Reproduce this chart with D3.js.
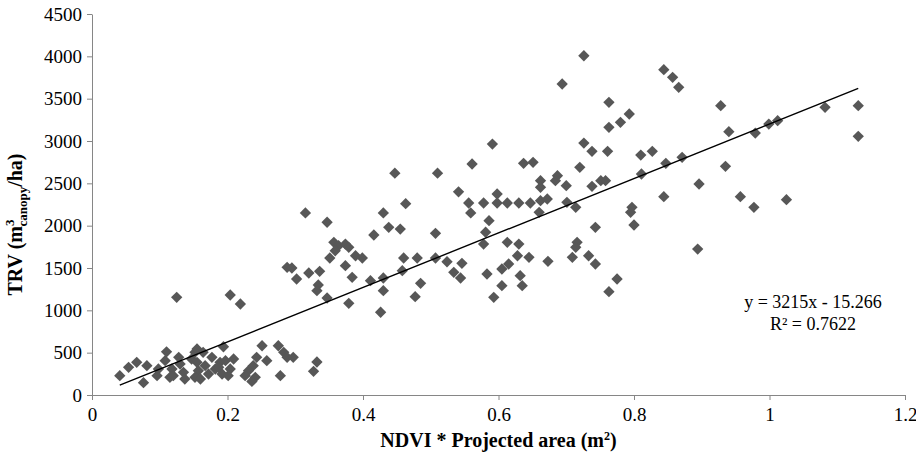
<!DOCTYPE html>
<html>
<head>
<meta charset="utf-8">
<script src="https://cdn.jsdelivr.net/npm/d3@7"></script>
<style>
  body { margin: 0; background: #fff; }
  svg text { font-family: "Liberation Serif", "Times New Roman", serif; }
</style>
</head>
<body>
<div id="plot"></div>
<script>
// NDVI * projected area (x) and TRV (y)
var ndvi = [
  0.041, 0.054, 0.066, 0.081, 0.076, 0.110, 0.108, 0.098, 0.096, 0.118,
  0.115, 0.128, 0.130, 0.135, 0.137, 0.147, 0.152, 0.155, 0.157, 0.152,
  0.164, 0.167, 0.172, 0.177, 0.182, 0.189, 0.192, 0.125, 0.204, 0.219,
  0.194, 0.197, 0.209, 0.187, 0.204, 0.201, 0.251, 0.243, 0.258, 0.238,
  0.231, 0.226, 0.241, 0.236, 0.275, 0.283, 0.288, 0.297, 0.278, 0.332,
  0.327, 0.120, 0.160, 0.155,
  0.315, 0.347, 0.430, 0.463, 0.541, 0.556, 0.559, 0.416, 0.438, 0.455,
  0.507, 0.357, 0.364, 0.374, 0.379, 0.359, 0.351, 0.389, 0.399, 0.460,
  0.480, 0.507, 0.524, 0.546, 0.288, 0.295, 0.320, 0.336, 0.374, 0.302,
  0.384, 0.411, 0.430, 0.458, 0.534, 0.544, 0.334, 0.332, 0.485, 0.430,
  0.347, 0.379, 0.477, 0.426, 0.447, 0.510,
  0.763, 0.793, 0.780, 0.763, 0.591, 0.561, 0.726, 0.738, 0.761, 0.810,
  0.827, 0.847, 0.637, 0.651, 0.720, 0.811, 0.662, 0.687, 0.684, 0.700,
  0.662, 0.738, 0.751, 0.758, 0.598, 0.578, 0.598, 0.613, 0.630, 0.647,
  0.662, 0.672, 0.701, 0.714, 0.844, 0.797, 0.795, 0.800, 0.660, 0.586,
  0.581, 0.578, 0.743, 0.613, 0.630, 0.628, 0.645, 0.615, 0.605, 0.583,
  0.632, 0.635, 0.605, 0.593, 0.673, 0.709, 0.716, 0.714, 0.733, 0.743,
  0.775, 0.763,
  0.726, 0.694, 0.844, 0.857, 0.866, 0.928, 1.082, 1.131, 1.131, 0.940,
  0.979, 0.999, 1.012, 0.871, 0.935, 0.896, 0.957, 0.977, 1.025, 0.894
];
var trv = [
  228, 327, 386, 346, 146, 510, 405, 307, 228, 307,
  209, 445, 366, 268, 189, 425, 504, 386, 287, 209,
  504, 346, 248, 445, 307, 386, 248, 1154, 1181, 1075,
  570, 405, 425, 327, 307, 228, 582, 445, 405, 346,
  287, 228, 209, 160, 582, 504, 445, 445, 228, 390,
  280, 228, 189, 543,
  2150, 2040, 2150, 2260, 2400, 2268, 2150, 1890, 1980, 1960,
  1910, 1803, 1764, 1783, 1744, 1704, 1618, 1645, 1618, 1618,
  1618, 1618, 1574, 1555, 1508, 1500, 1441, 1461, 1527, 1370,
  1390, 1350, 1382, 1468, 1449, 1382, 1299, 1232, 1319, 1232,
  1146, 1083, 1161, 977, 2620, 2620,
  3457, 3319, 3220, 3161, 2964, 2728, 2976, 2878, 2878, 2834,
  2878, 2736, 2736, 2748, 2689, 2610, 2531, 2590, 2531, 2472,
  2453, 2465, 2531, 2531, 2374, 2268, 2268, 2268, 2268, 2268,
  2295, 2315, 2276, 2217, 2342, 2217, 2158, 2008, 2158, 2059,
  1922, 1783, 1980, 1803, 1783, 1645, 1626, 1547, 1488, 1429,
  1409, 1291, 1291, 1154, 1579, 1626, 1803, 1744, 1645, 1547,
  1370, 1220,
  4007, 3673, 3842, 3752, 3634, 3417, 3398, 3417, 3055, 3110,
  3094, 3200, 3240, 2807, 2701, 2492, 2342, 2217, 2307, 1724
];
var xTicks = [0, 0.2, 0.4, 0.6, 0.8, 1, 1.2];
var yTicks = [0, 500, 1000, 1500, 2000, 2500, 3000, 3500, 4000, 4500];
var slope = 3215, intercept = -15.266;
var equationLines = ["y = 3215x - 15.266", "R\u00b2 = 0.7622"];

var W = 916, H = 459;
var margin = {top: 14, right: 11, bottom: 64, left: 92},
    width = W - margin.left - margin.right,
    height = H - margin.top - margin.bottom;

var svg = d3.select("#plot").append("svg")
    .attr("width", W).attr("height", H)
  .append("g")
    .attr("transform", "translate(" + margin.left + "," + margin.top + ")");

var x = d3.scaleLinear().domain([0, 1.2]).range([0, width]);
var y = d3.scaleLinear().domain([0, 4500]).range([height, 0]);

// axes
var xAxis = svg.append("g")
    .attr("transform", "translate(0," + height + ")")
    .call(d3.axisBottom(x).tickValues(xTicks).tickSize(5).tickSizeOuter(0)
      .tickFormat(d3.format("")));
var yAxis = svg.append("g")
    .call(d3.axisLeft(y).tickValues(yTicks).tickSize(5).tickSizeOuter(0)
      .tickFormat(d3.format("d")));

[xAxis, yAxis].forEach(function(a){
  a.attr("font-family", "Liberation Serif").attr("font-size", 19);
  a.select(".domain").attr("stroke", "#868686");
  a.selectAll(".tick line").attr("stroke", "#868686");
  a.selectAll(".tick text").attr("fill", "#000");
});
xAxis.selectAll(".tick text").attr("dy", "0.95em");
yAxis.selectAll(".tick text").attr("x", -10);

// points
var points = ndvi.map(function(v, i){ return [v, trv[i]]; });
svg.append("g")
  .selectAll("path")
  .data(points)
  .enter()
  .append("path")
    .attr("d", d3.symbol().type(d3.symbolSquare).size(64))
    .attr("transform", function(d){ return "translate(" + x(d[0]) + "," + y(d[1]) + ") rotate(45)"; })
    .attr("fill", "#575757");

// trend line over the data range
var xExt = d3.extent(ndvi);
svg.append("line")
  .attr("x1", x(xExt[0])).attr("y1", y(slope * xExt[0] + intercept))
  .attr("x2", x(xExt[1])).attr("y2", y(slope * xExt[1] + intercept))
  .attr("stroke", "#000")
  .attr("stroke-width", 1.4);

// equation
svg.selectAll("eq")
  .data(equationLines)
  .enter()
  .append("text")
    .attr("x", 721)
    .attr("y", function(d, i){ return 294 + i * 22; })
    .attr("text-anchor", "middle")
    .style("font-size", "18px")
    .text(function(d){ return d; });

// x title
var xt = svg.append("text")
  .attr("x", width / 2)
  .attr("y", height + 52)
  .attr("text-anchor", "middle")
  .style("font-size", "20px")
  .style("font-weight", "bold");
xt.append("tspan").text("NDVI * Projected area (m");
xt.append("tspan").attr("dy", -7).style("font-size", "12px").text("2");
xt.append("tspan").attr("dy", 7).text(")");

// y title
var yt = svg.append("text")
  .attr("transform", "translate(" + (-70) + "," + (height / 2 + 20) + ") rotate(-90)")
  .attr("text-anchor", "middle")
  .style("font-size", "20px")
  .style("font-weight", "bold");
yt.append("tspan").text("TRV (m");
yt.append("tspan").attr("dy", -8).style("font-size", "13px").text("3");
yt.append("tspan").attr("dy", 13).attr("dx", -7).style("font-size", "13px").text("canopy");
yt.append("tspan").attr("dy", -5).text("/ha)");
</script>
</body>
</html>
